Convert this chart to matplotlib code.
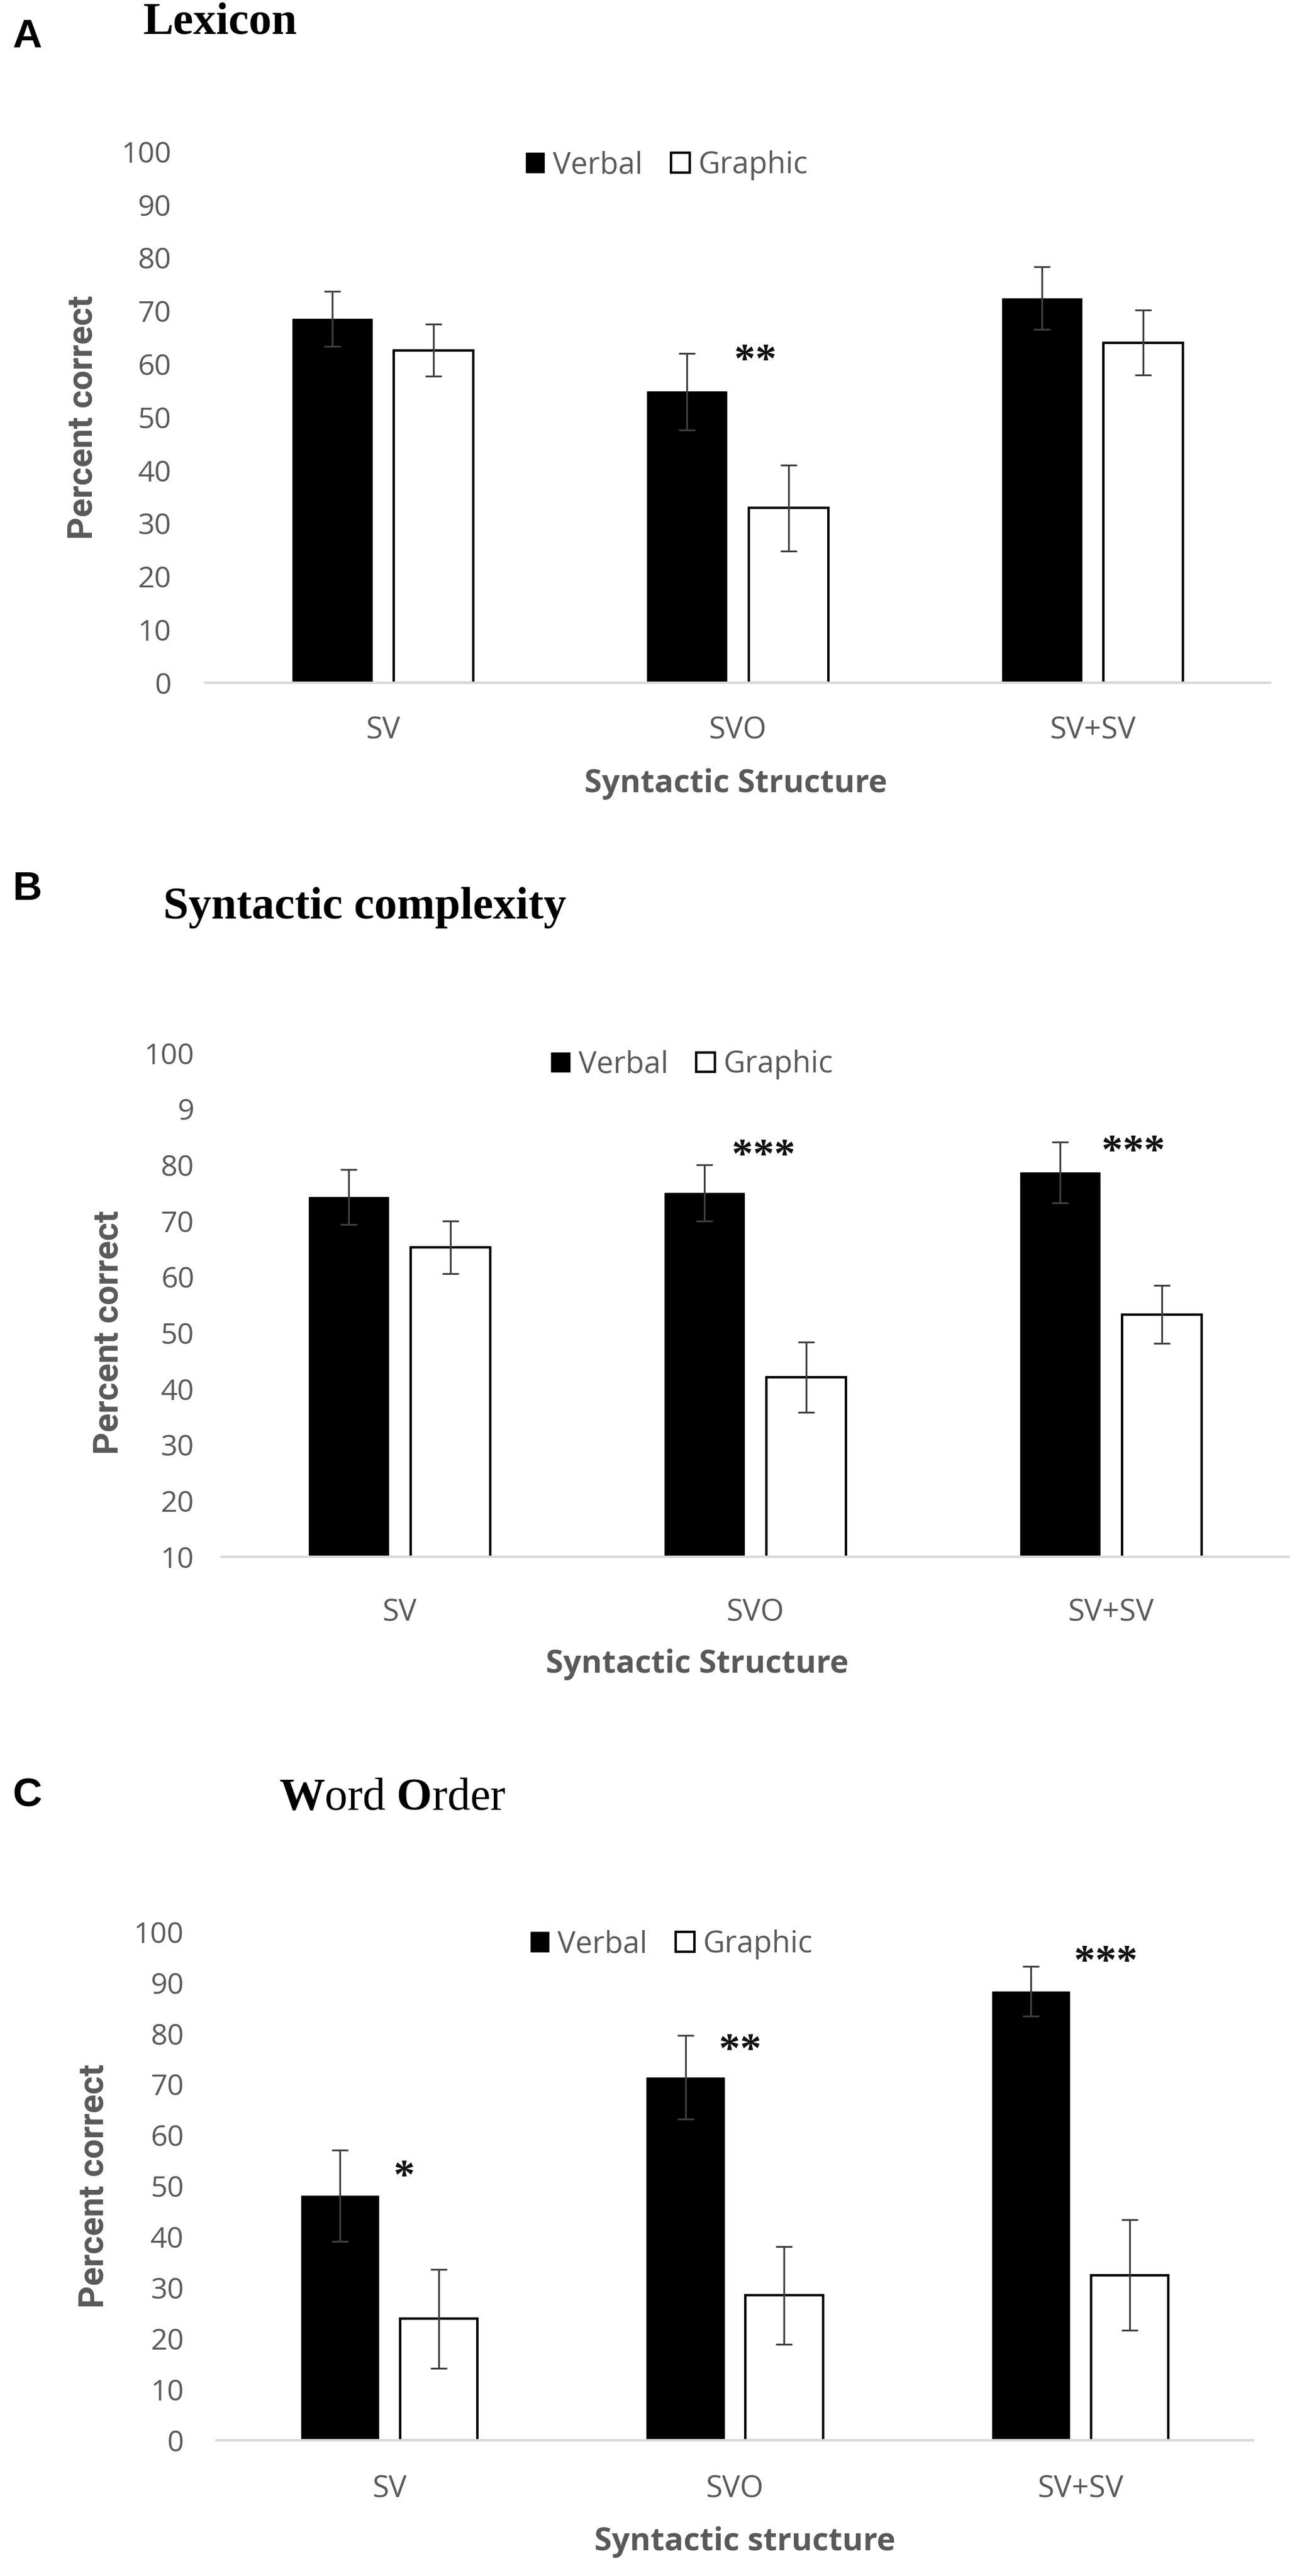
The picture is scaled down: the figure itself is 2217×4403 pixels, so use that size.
import numpy as np
import matplotlib
matplotlib.use("Agg")
import matplotlib.pyplot as plt

plt.rcParams['font.family'] = ['Open Sans', 'DejaVu Sans']
plt.rcParams['mathtext.fontset'] = 'custom'
plt.rcParams['mathtext.rm'] = 'Liberation Serif'
plt.rcParams['mathtext.bf'] = 'Liberation Serif:bold'

GREY = '#595959'
ERRC = '#3f3f3f'
W, H = 2217, 4403

categories = ['SV', 'SVO', 'SV+SV']

# A - Lexicon
lex_verbal = [68.5, 54.8, 72.4]
lex_verbal_err = [5.2, 7.2, 5.9]
lex_graphic = [62.6, 32.9, 64.0]
lex_graphic_err = [4.9, 8.1, 6.1]
lex_star_x = [1.05]
lex_star_y = [62.3]
lex_stars = ['**']
lex_yticks = [0, 10, 20, 30, 40, 50, 60, 70, 80, 90, 100]
lex_yticklabels = ['0', '10', '20', '30', '40', '50', '60', '70', '80', '90', '100']

# B - Syntactic complexity (axis labels as printed, "9" included)
syn_verbal = [74.3, 75.0, 78.7]
syn_verbal_err = [4.9, 5.05, 5.45]
syn_graphic = [65.3, 42.1, 53.3]
syn_graphic_err = [4.75, 6.3, 5.15]
syn_star_x = [1.023, 2.063]
syn_star_y = [83.2, 84.0]
syn_stars = ['***', '***']
syn_yticks = [10, 20, 30, 40, 50, 60, 70, 80, 90, 100]
syn_yticklabels = ['10', '20', '30', '40', '50', '60', '70', '80', '9', '100']

# C - Word order
wo_verbal = [48.1, 71.4, 88.3]
wo_verbal_err = [9.0, 8.2, 4.9]
wo_graphic = [23.9, 28.5, 32.5]
wo_graphic_err = [9.7, 9.6, 10.9]
wo_star_x = [0.043, 1.015, 2.074]
wo_star_y = [53.6, 78.4, 95.8]
wo_stars = ['*', '**', '***']


fig = plt.figure(figsize=(W / 100, H / 100), dpi=100)


def panel(rect, verbal, verbal_err, graphic, graphic_err, star_x, star_y, stars,
          yticks, yticklabels, xlabel, ypad, xpad, xlab_pos, ylab_pos, leg_pos):
    ax = fig.add_axes(rect)
    x = np.arange(len(categories))
    w = 0.224
    ax.bar(x - 0.143, verbal, w, color='black', edgecolor='black', lw=1, label='Verbal')
    ax.bar(x + 0.143, graphic, w, color='white', edgecolor='black', lw=3, label='Graphic')
    ax.errorbar(x - 0.143, verbal, yerr=verbal_err, fmt='none', ecolor=ERRC,
                elinewidth=2.2, capsize=10, capthick=2.2)
    ax.errorbar(x + 0.143, graphic, yerr=graphic_err, fmt='none', ecolor=ERRC,
                elinewidth=2.2, capsize=10, capthick=2.2)
    for sx, sy, s in zip(star_x, star_y, stars):
        ax.annotate(s, (sx, sy), xytext=(0, -25), textcoords='offset points',
                    ha='center', va='baseline', fontsize=52, fontweight='bold',
                    family='Liberation Serif', color='#111111')

    ax.set_xlim(-0.5, 2.5)
    ax.set_ylim(yticks[0], yticks[-1])
    ax.set_yticks(yticks, yticklabels)
    ax.set_xticks(x, categories)
    ax.tick_params(axis='y', length=0, pad=ypad, labelsize=36, labelcolor=GREY)
    ax.tick_params(axis='x', length=0, pad=xpad, labelsize=37, labelcolor=GREY)
    for side in ['top', 'right', 'left']:
        ax.spines[side].set_visible(False)
    ax.spines['bottom'].set_color('#d9d9d9')
    ax.spines['bottom'].set_linewidth(3)

    ax.set_xlabel(xlabel, fontsize=39, fontweight='bold', color=GREY)
    ax.xaxis.set_label_coords(*xlab_pos)
    ax.xaxis.label.set_va('center')
    ax.set_ylabel('Percent correct', fontsize=43, fontweight='bold', color=GREY,
                  family='Roboto')
    ax.yaxis.set_label_coords(*ylab_pos)
    ax.yaxis.label.set_va('center')

    ax.legend(ncol=2, frameon=False, loc='center', bbox_to_anchor=leg_pos,
              fontsize=37, handlelength=0.62, handleheight=0.62,
              handletextpad=0.29, columnspacing=0.94, labelcolor=GREY)
    return ax


def rect(left, right, bottom, top):
    return [left / W, 1 - bottom / H, (right - left) / W, (bottom - top) / H]


panel(rect(351, 2171, 1167, 259), lex_verbal, lex_verbal_err, lex_graphic, lex_graphic_err,
      lex_star_x, lex_star_y, lex_stars, lex_yticks, lex_yticklabels,
      'Syntactic Structure', 42, 41, (0.498, -0.1905), (-0.115, 0.5), (0.4335, 0.974))

panel(rect(379, 2203, 2661, 1800), syn_verbal, syn_verbal_err, syn_graphic, syn_graphic_err,
      syn_star_x, syn_star_y, syn_stars, syn_yticks, syn_yticklabels,
      'Syntactic Structure', 34, 51, (0.4457, -0.2137), (-0.106, 0.445), (0.441, 0.977))

panel(rect(370, 2142, 4171, 3302), wo_verbal, wo_verbal_err, wo_graphic, wo_graphic_err,
      wo_star_x, wo_star_y, wo_stars, lex_yticks, lex_yticklabels,
      'Syntactic structure', 40, 42, (0.51, -0.2002), (-0.118, 0.5), (0.439, 0.975))

# panel letters and titles
fig.text(21 / W, 1 - 81 / H, 'A', fontsize=50, fontweight='bold',
         family='Liberation Sans', va='baseline')
fig.text(245 / W, 1 - 57 / H, 'Lexicon', fontsize=56, fontweight='bold',
         family='Liberation Serif', va='baseline')
fig.text(21 / W, 1 - 1538 / H, 'B', fontsize=50, fontweight='bold',
         family='Liberation Sans', va='baseline')
fig.text(279 / W, 1 - 1570 / H, 'Syntactic complexity', fontsize=56, fontweight='bold',
         family='Liberation Serif', va='baseline')
fig.text(21 / W, 1 - 3087 / H, 'C', fontsize=50, fontweight='bold',
         family='Liberation Sans', va='baseline')
fig.text(477 / W, 1 - 3092 / H, r'$\mathbf{W}$ord $\mathbf{O}$rder', fontsize=56,
         family='Liberation Serif', va='baseline')

fig.savefig('out.png', dpi=100)
